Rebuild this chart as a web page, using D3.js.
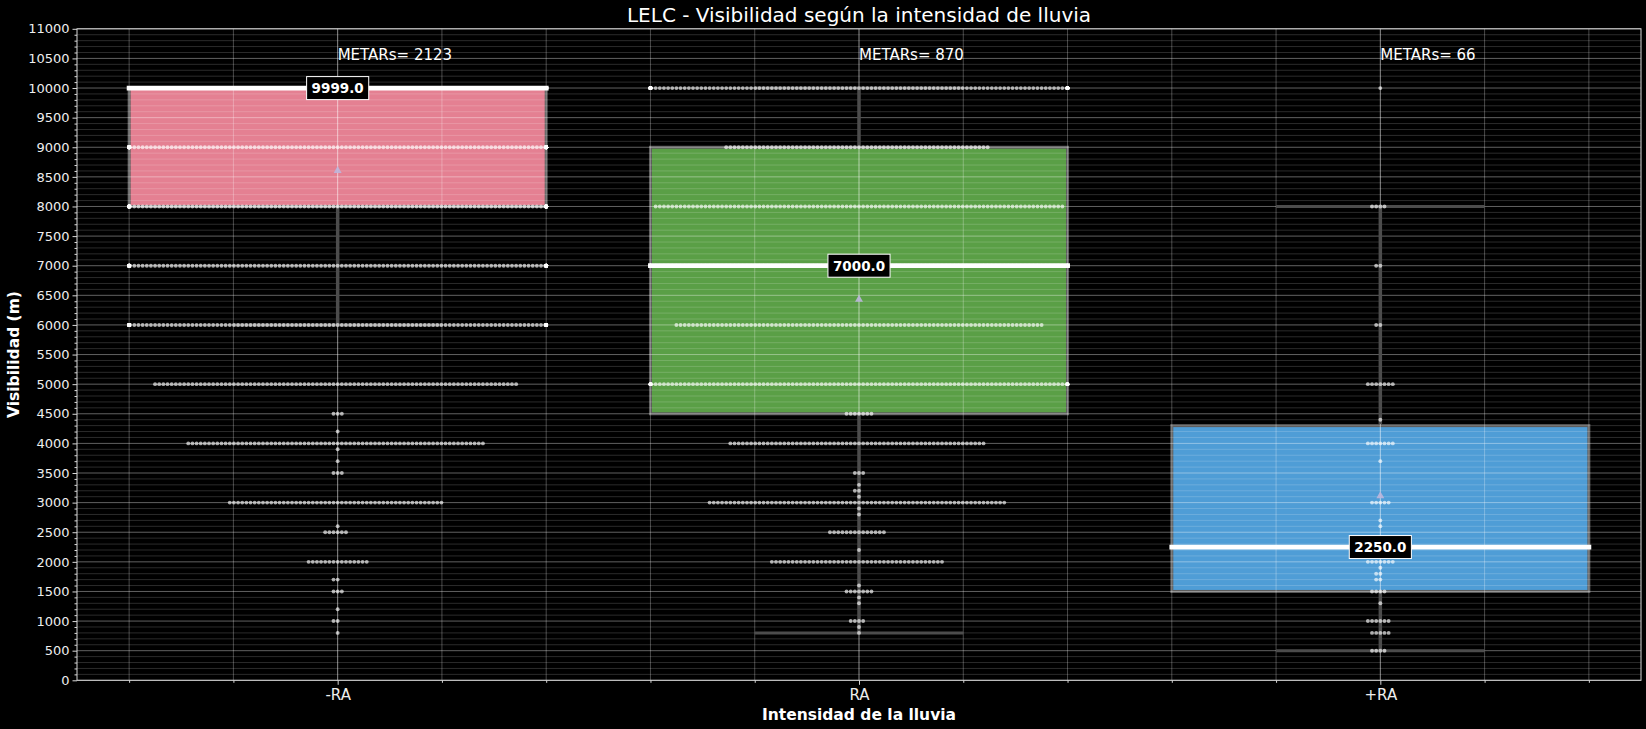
<!DOCTYPE html>
<html><head><meta charset="utf-8">
<script src="https://cdn.jsdelivr.net/npm/d3@7"></script>
<style>html,body{margin:0;padding:0;background:#000;} svg{display:block;}</style>
</head><body>
<svg id="chart" width="1646" height="729"></svg>
<script>
// ---------------- DATA ----------------
const categories = ["-RA", "RA", "+RA"];
// visibility values (m) present in each category and number of METARs at each value
const visMinusRA = [9999, 9000, 8000, 7000, 6000, 5000, 4500, 4200, 4000, 3900, 3700, 3500, 3000, 2600, 2500, 2000, 1700, 1500, 1200, 1000, 800];
const cntMinusRA = [1301, 150, 150, 135, 135, 88, 3, 1, 72, 1, 1, 3, 52, 1, 6, 15, 2, 3, 1, 2, 1];
const visRA = [9999, 9000, 8000, 7000, 6000, 5000, 4500, 4000, 3500, 3300, 3200, 3100, 3000, 2900, 2800, 2500, 2200, 2000, 1600, 1500, 1400, 1300, 1000, 900, 800];
const cntRA = [165, 64, 99, 118, 89, 112, 7, 62, 3, 1, 2, 1, 72, 1, 1, 14, 1, 42, 1, 7, 1, 1, 4, 1, 1];
const visPlusRA = [9999, 8000, 7000, 6000, 5000, 4400, 4000, 3700, 3000, 2700, 2600, 2300, 2200, 2000, 1900, 1800, 1700, 1500, 1300, 1000, 800, 500];
const cntPlusRA = [1, 4, 2, 2, 7, 1, 7, 1, 5, 1, 1, 1, 1, 7, 1, 2, 2, 4, 1, 6, 5, 4];
const yTicks = d3.range(0, 11001, 500);
const title = "LELC - Visibilidad según la intensidad de lluvia";
const xLabel = "Intensidad de la lluvia";
const yLabel = "Visibilidad (m)";
const boxColors = ["#e48092", "#5a9f46", "#4f9dd6"];

// ---------------- LAYOUT ----------------
const W = 1646, H = 729;
const m = {left: 77, right: 1641, top: 28.8, bottom: 680.3};
const svg = d3.select("#chart");
svg.append("rect").attr("width", W).attr("height", H).attr("fill", "#000");

const x = d3.scaleLinear().domain([-0.5, 2.5]).range([m.left, m.right]);
const y = d3.scaleLinear().domain([0, 11000]).range([m.bottom, m.top]);
const FONT = "DejaVu Sans, sans-serif";

const groups = [
  {vis: visMinusRA, cnt: cntMinusRA},
  {vis: visRA, cnt: cntRA},
  {vis: visPlusRA, cnt: cntPlusRA}
].map((g, i) => {
  const vals = [];
  g.vis.forEach((v, j) => { for (let k = 0; k < g.cnt[j]; k++) vals.push(v); });
  vals.sort(d3.ascending);
  const q1 = d3.quantile(vals, 0.25), med = d3.quantile(vals, 0.5), q3 = d3.quantile(vals, 0.75);
  const iqr = q3 - q1;
  const lo = d3.min(vals.filter(v => v >= q1 - 1.5 * iqr));
  const hi = d3.max(vals.filter(v => v <= q3 + 1.5 * iqr));
  return {i, cat: categories[i], vis: g.vis, cnt: g.cnt, n: vals.length, q1, med, q3, lo, hi, mean: d3.mean(vals)};
});

const unit = x(1) - x(0);
const boxW = 0.8 * unit;

// boxes
const gBox = svg.append("g");
groups.forEach(g => {
  gBox.append("rect")
    .attr("x", x(g.i) - boxW / 2).attr("y", y(g.q3))
    .attr("width", boxW).attr("height", y(g.q1) - y(g.q3))
    .attr("fill", boxColors[g.i]).attr("stroke", "#5c5c5c").attr("stroke-width", 3);
});

// grid (drawn over boxes)
const gGrid = svg.append("g");
const yMinor = d3.range(0, 11001, 100).filter(v => v % 500 !== 0);
gGrid.selectAll(".ymin").data(yMinor).enter().append("line")
  .attr("x1", m.left).attr("x2", m.right).attr("y1", d => y(d)).attr("y2", d => y(d))
  .attr("stroke", "#fff").attr("stroke-opacity", 0.17).attr("stroke-width", 1);
gGrid.selectAll(".ymaj").data(yTicks).enter().append("line")
  .attr("x1", m.left).attr("x2", m.right).attr("y1", d => y(d)).attr("y2", d => y(d))
  .attr("stroke", "#fff").attr("stroke-opacity", 0.38).attr("stroke-width", 1);
const xMinor = d3.range(-2, 13).map(k => k * 0.2).filter(v => Math.abs(v - Math.round(v)) > 1e-6);
gGrid.selectAll(".xmin").data(xMinor).enter().append("line")
  .attr("x1", d => x(d)).attr("x2", d => x(d)).attr("y1", m.top).attr("y2", m.bottom)
  .attr("stroke", "#fff").attr("stroke-opacity", 0.28).attr("stroke-width", 1);
gGrid.selectAll(".xmaj").data([0, 1, 2]).enter().append("line")
  .attr("x1", d => x(d)).attr("x2", d => x(d)).attr("y1", m.top).attr("y2", m.bottom)
  .attr("stroke", "#fff").attr("stroke-opacity", 0.55).attr("stroke-width", 1);

// whiskers, caps
const gW = svg.append("g");
groups.forEach(g => {
  const cx = x(g.i);
  if (g.lo < g.q1) gW.append("line").attr("x1", cx).attr("x2", cx).attr("y1", y(g.q1) + 1.5).attr("y2", y(g.lo))
    .attr("stroke", "#4c4c4c").attr("stroke-width", 3.5);
  if (g.hi > g.q3) gW.append("line").attr("x1", cx).attr("x2", cx).attr("y1", y(g.q3) - 1.5).attr("y2", y(g.hi))
    .attr("stroke", "#4c4c4c").attr("stroke-width", 3.5);
  [g.lo, g.hi].forEach(v => {
    gW.append("line").attr("x1", cx - boxW / 4).attr("x2", cx + boxW / 4).attr("y1", y(v)).attr("y2", y(v))
      .attr("stroke", "#4c4c4c").attr("stroke-width", 3);
  });
});

// swarm points
const gDots = svg.append("g");
const d = 4.15, r = 1.95;
groups.forEach(g => {
  const cx = x(g.i), half = boxW / 2;
  const pts = [];
  g.vis.forEach((v, j) => {
    for (let k = 0; k < g.cnt[j]; k++) {
      const step = (k % 2 === 1) ? -(k + 1) / 2 : k / 2;
      let off = step * d;
      off = Math.max(-half, Math.min(half, off));
      pts.push([cx + off, y(v)]);
    }
  });
  gDots.selectAll(null).data(pts).enter().append("circle")
    .attr("cx", p => p[0]).attr("cy", p => p[1]).attr("r", r)
    .attr("fill", "#fff").attr("fill-opacity", 0.66);
});

// median lines
groups.forEach(g => {
  svg.append("line").attr("x1", x(g.i) - boxW / 2).attr("x2", x(g.i) + boxW / 2)
    .attr("y1", y(g.med)).attr("y2", y(g.med))
    .attr("stroke", "#fff").attr("stroke-width", 4.8).attr("stroke-linecap", "square");
});

// mean markers
groups.forEach(g => {
  const cx = x(g.i), cy = y(g.mean);
  svg.append("path").attr("d", `M${cx},${cy - 4} L${cx + 4},${cy + 3} L${cx - 4},${cy + 3} Z`)
    .attr("fill", "#bcb6dc").attr("fill-opacity", 0.9);
});

// median labels
groups.forEach(g => {
  const lbl = svg.append("g").attr("transform", `translate(${x(g.i)},${y(g.med)})`);
  const t = lbl.append("text").attr("text-anchor", "middle").attr("dy", "0.36em")
    .attr("font-family", FONT).attr("font-weight", "bold").attr("font-size", 13.5)
    .attr("fill", "#fff").text(g.med.toFixed(1));
  const bb = t.node().getBBox();
  lbl.insert("rect", "text").attr("x", bb.x - 5).attr("y", -11.5).attr("width", bb.width + 10).attr("height", 23)
    .attr("fill", "#000").attr("stroke", "#fff").attr("stroke-width", 1);
});

// METARs count labels
groups.forEach(g => {
  svg.append("text").attr("x", x(g.i)).attr("y", y(10470))
    .attr("font-family", FONT).attr("font-size", 15).attr("fill", "#fff")
    .text("METARs= " + g.n);
});

// frame
svg.append("rect").attr("x", m.left).attr("y", m.top).attr("width", m.right - m.left).attr("height", m.bottom - m.top)
  .attr("fill", "none").attr("stroke", "#d8d8d8").attr("stroke-width", 1);

// y axis
const yAxis = d3.axisLeft(y).tickValues(yTicks).tickFormat(d3.format("d")).tickSize(4.5).tickPadding(3);
const gy = svg.append("g").attr("transform", `translate(${m.left},0)`).call(yAxis);
gy.select(".domain").remove();
gy.selectAll("line").attr("stroke", "#d8d8d8");
gy.selectAll("text").attr("font-family", FONT).attr("font-size", 13).attr("fill", "#eee");
const yAxisMinor = d3.axisLeft(y).tickValues(yMinor).tickFormat("").tickSize(2.5);
const gym = svg.append("g").attr("transform", `translate(${m.left},0)`).call(yAxisMinor);
gym.select(".domain").remove();
gym.selectAll("line").attr("stroke", "#d8d8d8");

// x axis
const xAxis = d3.axisBottom(x).tickValues([0, 1, 2]).tickFormat(i => categories[i]).tickSize(4.5).tickPadding(5);
const gx = svg.append("g").attr("transform", `translate(0,${m.bottom})`).call(xAxis);
gx.select(".domain").remove();
gx.selectAll("line").attr("stroke", "#d8d8d8");
gx.selectAll("text").attr("font-family", FONT).attr("font-size", 15).attr("fill", "#eee");
const xAxisMinor = d3.axisBottom(x).tickValues(xMinor).tickFormat("").tickSize(2.5);
const gxm = svg.append("g").attr("transform", `translate(0,${m.bottom})`).call(xAxisMinor);
gxm.select(".domain").remove();
gxm.selectAll("line").attr("stroke", "#d8d8d8");

// titles
svg.append("text").attr("x", (m.left + m.right) / 2).attr("y", 21.5).attr("text-anchor", "middle")
  .attr("font-family", FONT).attr("font-size", 20).attr("fill", "#fff").text(title);
svg.append("text").attr("x", (m.left + m.right) / 2).attr("y", 719.5).attr("text-anchor", "middle")
  .attr("font-family", FONT).attr("font-size", 15.5).attr("font-weight", "bold").attr("fill", "#fff").text(xLabel);
svg.append("text").attr("transform", `translate(19,${(m.top + m.bottom) / 2}) rotate(-90)`).attr("text-anchor", "middle")
  .attr("font-family", FONT).attr("font-size", 15.5).attr("font-weight", "bold").attr("fill", "#fff").text(yLabel);
</script>
</body></html>
